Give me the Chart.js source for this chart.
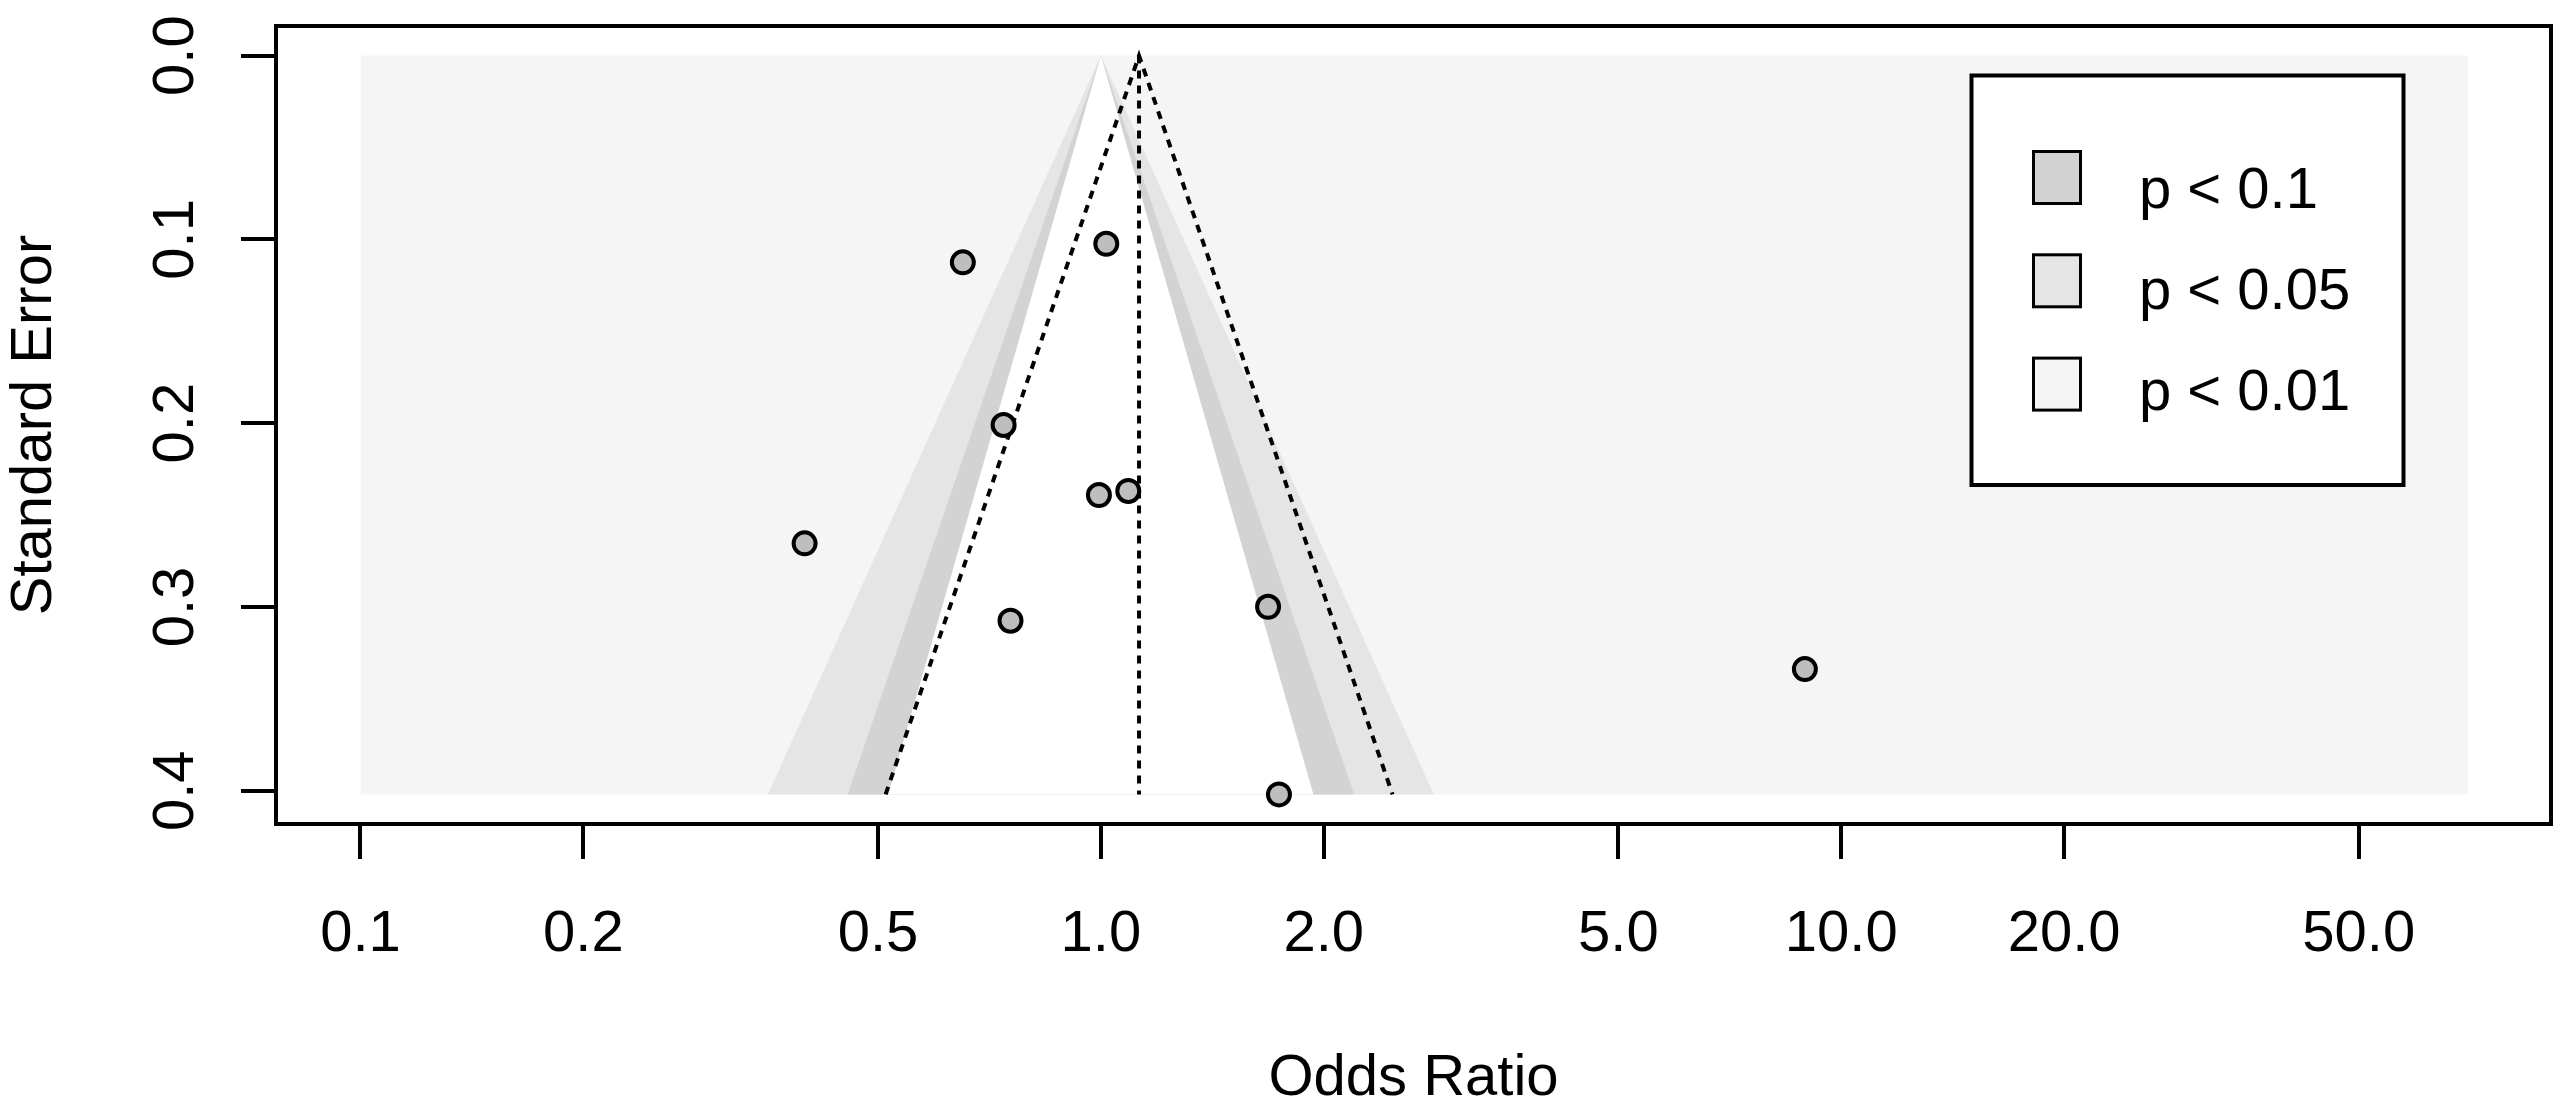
<!DOCTYPE html>
<html>
<head>
<meta charset="utf-8">
<script src="https://cdn.jsdelivr.net/npm/chart.js@4.4.1/dist/chart.umd.min.js"></script>
<style>
  html, body { margin: 0; padding: 0; background: #ffffff; }
  #funnel { display: block; }
</style>
</head>
<body>
<canvas id="funnel" width="2570" height="1119"></canvas>
<script>
// study estimates (odds ratio, standard error)
const oddsRatios = [0.651, 1.017, 0.739, 0.994, 1.089, 0.398, 0.755, 1.682, 1.740, 8.93];
const standardErrors = [0.1125, 0.1024, 0.2010, 0.2391, 0.2369, 0.2654, 0.3075, 0.2999, 0.4020, 0.3338];

// pooled estimate and its pseudo confidence funnel at the largest SE
const pooledOR = 1.126;
const funnelLower = 0.512;
const funnelUpper = 2.477;
const seMax = 0.402;

// contour regions (centred at OR = 1), limits at the largest SE
const contourLabels = ['p < 0.1', 'p < 0.05', 'p < 0.01'];
const contourLower = [0.516, 0.455, 0.355];
const contourUpper = [1.937, 2.199, 2.817];
const contourColors = ['#d3d3d3', '#e5e5e5', '#f5f5f5'];
const regionMin = 0.1;
const regionMax = 70.2;

// axes
const xTicks = [0.1, 0.2, 0.5, 1, 2, 5, 10, 20, 50];
const xTickLabels = ['0.1', '0.2', '0.5', '1.0', '2.0', '5.0', '10.0', '20.0', '50.0'];
const yTicks = [0, 0.1, 0.2, 0.3, 0.4];
const xMin = 0.0769, xMax = 90.9;
const yMin = -0.0161, yMax = 0.4181;

const FONT = "'Liberation Sans', Arial, Helvetica, sans-serif";
const textFont = { family: FONT, size: 58 };

const ctx = document.getElementById('funnel').getContext('2d');

function polygon(points, color, order) {
    return {
        data: points,
        backgroundColor: color,
        borderColor: 'rgba(0,0,0,0)',
        borderWidth: 0,
        pointRadius: 0,
        fill: { value: seMax },
        order: order
    };
}

function dotted(points, order) {
    return {
        data: points,
        borderColor: '#000000',
        borderWidth: 4,
        borderDash: [8, 7],
        pointRadius: 0,
        fill: false,
        order: order
    };
}

const datasets = [];
// whole background = p < 0.01
datasets.push(polygon([{ x: regionMin, y: 0 }, { x: regionMax, y: 0 }], contourColors[2], 10));
// 99%, 95%, 90% triangles
datasets.push(polygon([{ x: contourLower[2], y: seMax }, { x: 1, y: 0 }, { x: contourUpper[2], y: seMax }], contourColors[1], 9));
datasets.push(polygon([{ x: contourLower[1], y: seMax }, { x: 1, y: 0 }, { x: contourUpper[1], y: seMax }], contourColors[0], 8));
datasets.push(polygon([{ x: contourLower[0], y: seMax }, { x: 1, y: 0 }, { x: contourUpper[0], y: seMax }], '#ffffff', 7));
// pseudo confidence funnel and pooled estimate
datasets.push(dotted([{ x: funnelLower, y: seMax }, { x: pooledOR, y: 0 }, { x: funnelUpper, y: seMax }], 3));
datasets.push(dotted([{ x: pooledOR, y: 0 }, { x: pooledOR, y: seMax }], 3));
// studies
datasets.push({
    data: oddsRatios.map((v, i) => ({ x: v, y: standardErrors[i] })),
    showLine: false,
    pointRadius: 11,
    pointBorderWidth: 4,
    pointBackgroundColor: '#bebebe',
    pointBorderColor: '#000000',
    fill: false,
    order: 1
});

const frameAndLegend = {
    id: 'frameAndLegend',
    afterDraw(chart) {
        const c = chart.ctx;
        const a = chart.chartArea;
        c.save();
        c.strokeStyle = '#000000';
        c.lineWidth = 4;
        c.strokeRect(a.left, a.top, a.right - a.left, a.bottom - a.top);

        // legend
        c.fillStyle = '#ffffff';
        c.fillRect(1971.5, 75.5, 432, 409.5);
        c.strokeRect(1971.5, 75.5, 432, 409.5);
        c.font = '58px ' + FONT;
        c.textBaseline = 'alphabetic';
        c.textAlign = 'left';
        contourLabels.forEach((label, i) => {
            const cy = 177.5 + i * 103.3;
            c.fillStyle = contourColors[i];
            c.fillRect(2033.5, cy - 26, 47, 52);
            c.lineWidth = 3;
            c.strokeRect(2033.5, cy - 26, 47, 52);
            c.fillStyle = '#000000';
            c.fillText(label, 2139, 207.5 + i * 101.2);
        });
        c.restore();
    }
};

new Chart(ctx, {
    type: 'line',
    data: { datasets: datasets },
    options: {
        responsive: false,
        animation: false,
        events: [],
        layout: { padding: { top: 26, right: 19, left: 0, bottom: 0 } },
        plugins: {
            legend: { display: false },
            tooltip: { enabled: false }
        },
        scales: {
            x: {
                type: 'logarithmic',
                min: xMin,
                max: xMax,
                afterBuildTicks: scale => { scale.ticks = xTicks.map(v => ({ value: v })); },
                afterFit: scale => {
                    scale.height = 295;
                    scale.paddingLeft = 0;
                    scale.paddingRight = 0;
                },
                ticks: {
                    autoSkip: false,
                    maxRotation: 0,
                    minRotation: 0,
                    padding: 41,
                    color: '#000000',
                    font: textFont,
                    callback: (value, index) => xTickLabels[index]
                },
                grid: {
                    drawOnChartArea: false,
                    drawTicks: true,
                    tickLength: 35,
                    lineWidth: 4,
                    color: '#000000'
                },
                border: { display: false },
                title: {
                    display: true,
                    text: 'Odds Ratio',
                    color: '#000000',
                    font: textFont,
                    padding: { top: 0, bottom: 5 }
                }
            },
            y: {
                type: 'linear',
                reverse: true,
                min: yMin,
                max: yMax,
                afterBuildTicks: scale => { scale.ticks = yTicks.map(v => ({ value: v })); },
                afterFit: scale => {
                    scale.width = 276;
                    scale.paddingTop = 0;
                    scale.paddingBottom = 0;
                },
                ticks: {
                    autoSkip: false,
                    minRotation: 90,
                    maxRotation: 90,
                    crossAlign: 'center',
                    padding: 24,
                    color: '#000000',
                    font: textFont,
                    callback: value => value.toFixed(1)
                },
                grid: {
                    drawOnChartArea: false,
                    drawTicks: true,
                    tickLength: 35,
                    lineWidth: 4,
                    color: '#000000'
                },
                border: { display: false },
                title: {
                    display: true,
                    text: 'Standard Error',
                    color: '#000000',
                    font: textFont,
                    padding: { top: 0, bottom: 0 }
                }
            }
        }
    },
    plugins: [frameAndLegend]
});
</script>
</body>
</html>
